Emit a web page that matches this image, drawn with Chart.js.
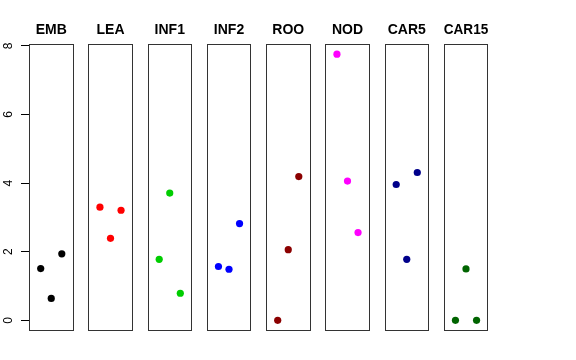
<!DOCTYPE html>
<html>
<head>
<meta charset="utf-8">
<script src="https://cdn.jsdelivr.net/npm/chart.js@4.4.0/dist/chart.umd.min.js"></script>
<style>
  body { margin: 0; background: #fff; width: 576px; height: 360px; position: relative; overflow: hidden; }
  canvas { position: absolute; top: 0; }
</style>
</head>
<body>
<script>
// tissue groups and their point colours
const groups = ['EMB', 'LEA', 'INF1', 'INF2', 'ROO', 'NOD', 'CAR5', 'CAR15'];
const colors = ['#000000', '#FF0000', '#00CD00', '#0000FF', '#8B0000', '#FF00FF', '#00008B', '#006400'];

// replicate index on the x axis of each panel
const replicates = [1, 2, 3];

// values per group (replicate 1, 2, 3)
const EMB = [1.51, 0.64, 1.94];
const LEA = [3.30, 2.39, 3.21];
const INF1 = [1.78, 3.71, 0.79];
const INF2 = [1.57, 1.49, 2.82];
const ROO = [0.00, 2.06, 4.19];
const NOD = [7.76, 4.06, 2.56];
const CAR5 = [3.96, 1.78, 4.31];
const CAR15 = [0.00, 1.50, 0.00];
const values = [EMB, LEA, INF1, INF2, ROO, NOD, CAR5, CAR15];

const yTicks = [0, 2, 4, 6, 8];
const yMin = -0.31, yMax = 8.07;

// layout of the panels
const firstLeft = 29, step = 59.25, boxWidth = 44.5;
const boxBottom = 331, canvasHeight = 336;

// draws the frame round each panel
const framePlugin = {
    id: 'frame',
    afterDatasetsDraw(chart) {
        const a = chart.chartArea;
        const ctx = chart.ctx;
        ctx.save();
        ctx.strokeStyle = '#333';
        ctx.lineWidth = 1;
        const l = Math.round(a.left) + 0.5, t = Math.round(a.top) + 0.5;
        const r = Math.round(a.right) - 0.5, b = Math.round(a.bottom) - 0.5;
        ctx.strokeRect(l, t, r - l, b - t);
        ctx.restore();
    }
};

groups.forEach((name, i) => {
    const boxLeft = firstLeft + step * i;
    const canvas = document.createElement('canvas');
    let canvasLeft, padLeft;
    if (i === 0) {
        canvasLeft = 0;
        padLeft = 0;
    } else {
        canvasLeft = Math.floor(boxLeft) - 4;
        padLeft = boxLeft - canvasLeft;
    }
    const canvasWidth = Math.ceil(boxLeft + boxWidth) + 4 - canvasLeft;
    canvas.width = canvasWidth;
    canvas.height = canvasHeight;
    canvas.style.left = canvasLeft + 'px';
    document.body.appendChild(canvas);

    const showAxis = i === 0;

    new Chart(canvas, {
        type: 'scatter',
        data: {
            datasets: [{
                data: replicates.map((x, j) => ({ x: x, y: values[i][j] })),
                backgroundColor: colors[i],
                borderColor: colors[i],
                borderWidth: 0,
                pointRadius: 3.6,
                clip: false
            }]
        },
        options: {
            responsive: false,
            animation: false,
            events: [],
            layout: {
                padding: { left: padLeft, right: canvasWidth - (boxLeft + boxWidth - canvasLeft), top: 0, bottom: canvasHeight - boxBottom }
            },
            plugins: {
                legend: { display: false },
                tooltip: { enabled: false },
                title: {
                    display: true,
                    fullSize: false,
                    text: name,
                    color: '#000',
                    font: { family: 'Liberation Sans, Arial, sans-serif', size: 14, weight: 'bold', lineHeight: 1.2 },
                    padding: { top: 21.5, bottom: 5.2 }
                }
            },
            scales: {
                x: {
                    type: 'linear',
                    display: false,
                    min: -0.11,
                    max: 4.11
                },
                y: {
                    type: 'linear',
                    display: showAxis,
                    min: yMin,
                    max: yMax,
                    border: { display: false },
                    grid: { drawOnChartArea: false, tickLength: 8, color: '#000', tickColor: '#000' },
                    afterBuildTicks: (scale) => { scale.ticks = yTicks.map(v => ({ value: v })); },
                    afterFit: (scale) => {
                        if (!showAxis) return;
                        scale.width = firstLeft;
                        scale.paddingTop = 0;
                        scale.paddingBottom = 0;
                    },
                    ticks: {
                        color: '#000',
                        font: { family: 'Liberation Sans, Arial, sans-serif', size: 12 },
                        minRotation: 90,
                        maxRotation: 90,
                        crossAlign: 'center',
                        padding: 9
                    }
                }
            }
        },
        plugins: [framePlugin]
    });
});
</script>
</body>
</html>
